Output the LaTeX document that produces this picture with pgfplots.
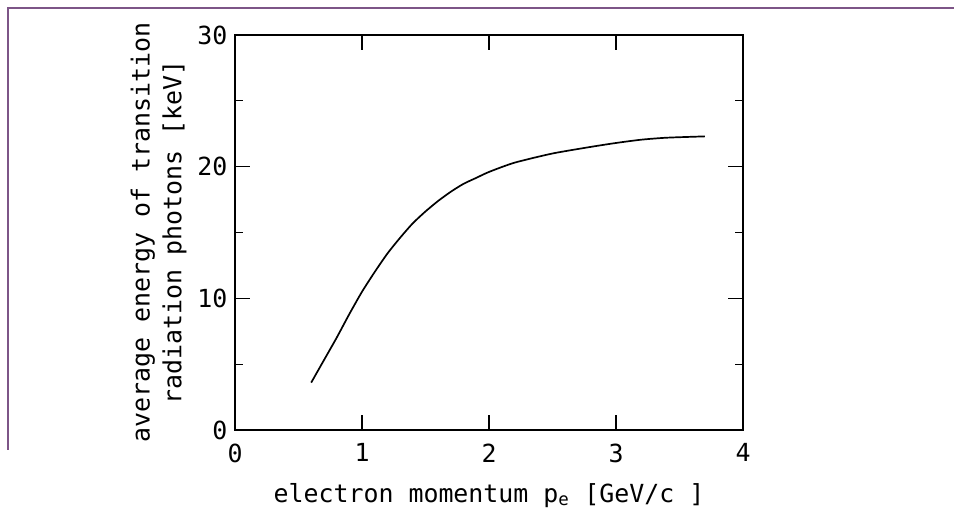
\documentclass[border=0pt]{standalone}
\usepackage{fontspec}
\setmainfont{DejaVu Sans Mono}
\usepackage{pgfplots}
\pgfplotsset{compat=1.18}
\begin{document}
\begin{tikzpicture}
\path[use as bounding box] (0,0) rectangle (954bp,520bp);
\draw[color={rgb,255:red,125;green,85;blue,135}, line width=1.2bp] (8bp,70bp) -- (8bp,512bp) -- (954bp,512bp);
\begin{axis}[
  at={(235bp,90bp)}, anchor=south west,
  width=508bp, height=395bp, scale only axis,
  xmin=0, xmax=4, ymin=0, ymax=30,
  xtick={0,1,2,3,4}, ytick={0,10,20,30},
  minor ytick={5,15,25},
  tick align=inside,
  major tick length=15bp, minor tick length=8bp,
  every tick/.style={black, line width=1.3bp},
  axis line style={line width=1.6bp},
  /pgf/number format/assume math mode=true,
  tick label style={font=\fontsize{25}{28}\selectfont},
  xticklabel style={yshift=-10bp},
  yticklabel style={xshift=-4bp},
  label style={font=\fontsize{25}{32}\selectfont},
  xlabel={electron momentum p\textsubscript{e} [GeV/c ]},
  ylabel={average energy of transition\\radiation photons [keV]},
  ylabel style={align=center, yshift=4bp},
  xlabel style={yshift=-14bp},
]
\addplot[black, line width=1.7bp, smooth, tension=0.4] coordinates {
(0.60,3.6) (0.70,5.3) (0.80,7.0) (0.90,8.8) (1.00,10.5) (1.10,12.0) (1.20,13.4)
(1.30,14.6) (1.40,15.7) (1.50,16.6) (1.60,17.4) (1.70,18.1) (1.80,18.7) (1.90,19.15)
(2.00,19.6) (2.20,20.3) (2.50,21.0) (2.80,21.5) (3.00,21.8) (3.20,22.05) (3.40,22.2) (3.70,22.3)
};
\end{axis}
\end{tikzpicture}
\end{document}
